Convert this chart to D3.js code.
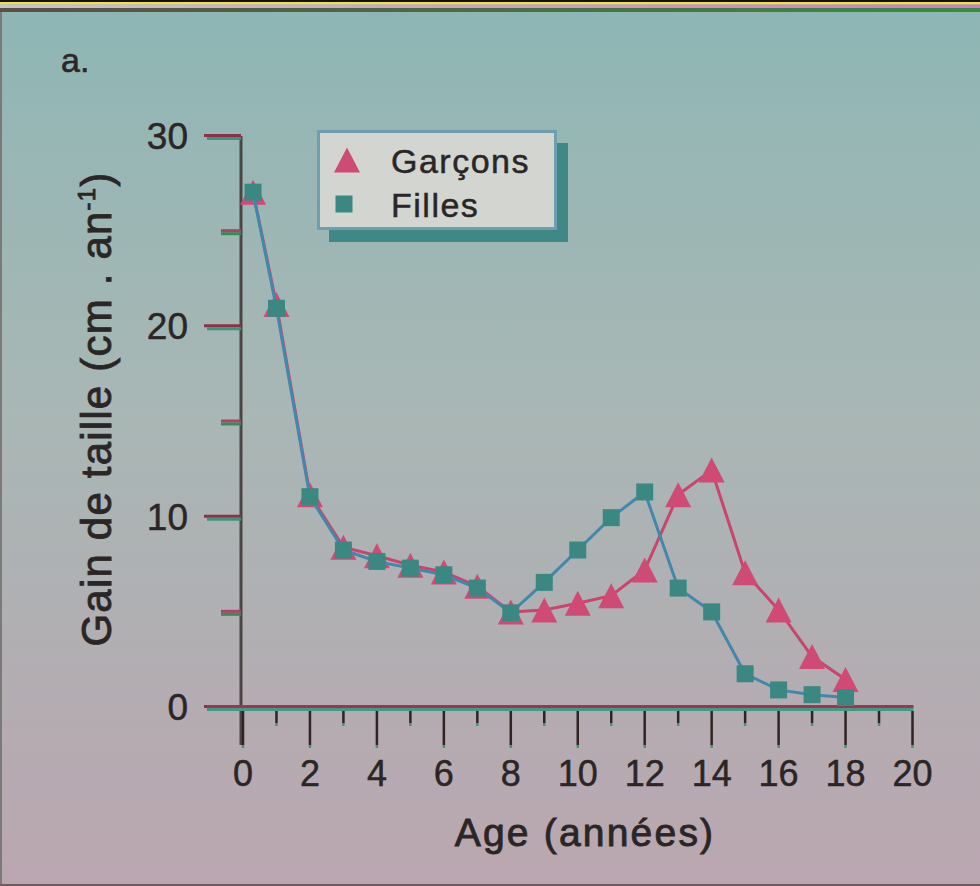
<!DOCTYPE html>
<html>
<head>
<meta charset="utf-8">
<script src="https://cdn.jsdelivr.net/npm/d3@7"></script>
<style>
  html, body { margin: 0; padding: 0; background: #a8b4b4; }
  svg { display: block; }
  text { font-family: "Liberation Sans", Arial, Helvetica, sans-serif; fill: #2b2626; }
</style>
</head>
<body>
<script>
// Growth velocity by age (cm per year)
const ages = [0.3, 1, 2, 3, 4, 5, 6, 7, 8, 9, 10, 11, 12, 13, 14, 15, 16, 17, 18];
const garcons = [27.1, 21.2, 11.2, 8.45, 8.0, 7.5, 7.15, 6.4, 5.05, 5.15, 5.5, 5.9, 7.25, 11.2, 12.5, 7.1, 5.15, 2.7, 1.5];
const filles  = [27.1, 21.0, 11.1, 8.3, 7.7, 7.35, 7.0, 6.3, 5.0, 6.6, 8.3, 10.0, 11.35, 6.3, 5.05, 1.8, 0.95, 0.7, 0.55];
const xTickLabels = [0, 2, 4, 6, 8, 10, 12, 14, 16, 18, 20];
const yTickLabels = [0, 10, 20, 30];
const seriesNames = ["Garçons", "Filles"];

const W = 980, H = 886;
const pink = "#cf4a74", teal = "#3b8883", tealLine = "#4388ac", redLine = "#c9456e";

const svg = d3.select("body").append("svg").attr("width", W).attr("height", H);

// Background wash
const defs = svg.append("defs");
const bg = defs.append("linearGradient").attr("id", "bg").attr("x1", 0).attr("y1", 0).attr("x2", 0).attr("y2", 1);
bg.append("stop").attr("offset", 0).attr("stop-color", "#8db6b4");
bg.append("stop").attr("offset", 0.45).attr("stop-color", "#a8b7b5");
bg.append("stop").attr("offset", 1).attr("stop-color", "#bba6b0");
svg.append("rect").attr("width", W).attr("height", H).attr("fill", "url(#bg)");

// Frame stripes along the top
const stripeA = defs.append("linearGradient").attr("id", "stripeA");
stripeA.append("stop").attr("offset", 0).attr("stop-color", "#c9c2d0");
stripeA.append("stop").attr("offset", 1).attr("stop-color", "#d47ac8");
const stripeB = defs.append("linearGradient").attr("id", "stripeB");
stripeB.append("stop").attr("offset", 0).attr("stop-color", "#5a5044");
stripeB.append("stop").attr("offset", 1).attr("stop-color", "#3a8c44");
svg.append("rect").attr("x", 0).attr("y", 0).attr("width", W).attr("height", 2).attr("fill", "#111");
svg.append("rect").attr("x", 0).attr("y", 2).attr("width", W).attr("height", 2.5).attr("fill", "#efe23c");
svg.append("rect").attr("x", 0).attr("y", 4.5).attr("width", W).attr("height", 3.5).attr("fill", "url(#stripeA)");
svg.append("rect").attr("x", 0).attr("y", 8).attr("width", W).attr("height", 4).attr("fill", "url(#stripeB)");
svg.append("rect").attr("x", 0).attr("y", 12).attr("width", 2).attr("height", H - 12).attr("fill", "#7a7a78");
svg.append("rect").attr("x", 0).attr("y", H - 2).attr("width", W).attr("height", 2).attr("fill", "#6e5a60");

// Scales
const x = d3.scaleLinear().domain([0, 20]).range([243, 912.5]);
const y = d3.scaleLinear().domain([0, 30]).range([708, 137]);

// Panel letter
svg.append("text").attr("x", 61).attr("y", 72).attr("font-size", 34)
  .attr("stroke", "#2b2626").attr("stroke-width", 0.6).text("a.");

// Y axis line
svg.append("line").attr("x1", x(0) - 2).attr("x2", x(0) - 2)
  .attr("y1", y(30) - 1).attr("y2", 745)
  .attr("stroke", "#4a4646").attr("stroke-width", 3);

// Y ticks (major at labels, minor halfway)
const yMajor = yTickLabels, yMinor = [5, 15, 25];
const yTicks = svg.append("g");
yMajor.forEach(v => {
  yTicks.append("line").attr("x1", 204).attr("x2", x(0) - 2).attr("y1", y(v) - 1.5).attr("y2", y(v) - 1.5)
    .attr("stroke", "#8e3048").attr("stroke-width", 3);
  yTicks.append("line").attr("x1", 207).attr("x2", x(0) - 2).attr("y1", y(v) + 1.5).attr("y2", y(v) + 1.5)
    .attr("stroke", "#3e9478").attr("stroke-width", 3);
});
yMinor.forEach(v => {
  yTicks.append("line").attr("x1", 221).attr("x2", x(0) - 2).attr("y1", y(v) - 1.5).attr("y2", y(v) - 1.5)
    .attr("stroke", "#b0406a").attr("stroke-width", 3);
  yTicks.append("line").attr("x1", 221).attr("x2", x(0) - 2).attr("y1", y(v) + 1.5).attr("y2", y(v) + 1.5)
    .attr("stroke", "#3a8a58").attr("stroke-width", 3);
});
svg.append("g").selectAll("text").data(yTickLabels).join("text")
  .attr("x", 188).attr("y", d => y(d) + 12).attr("text-anchor", "end")
  .attr("font-size", 37).attr("stroke", "#2b2626").attr("stroke-width", 0.5)
  .text(d => d);

// X axis line (two-tone print edge)
svg.append("line").attr("x1", 207).attr("x2", x(20) + 1).attr("y1", y(0) - 1.5).attr("y2", y(0) - 1.5)
  .attr("stroke", "#a8304e").attr("stroke-width", 3);
svg.append("line").attr("x1", 209).attr("x2", x(20) + 1).attr("y1", y(0) + 1.5).attr("y2", y(0) + 1.5)
  .attr("stroke", "#3c9c84").attr("stroke-width", 3);

// X ticks: major every 2 years, minor on odd years
const xt = svg.append("g");
d3.range(0, 21).forEach(a => {
  const major = a % 2 === 0;
  const len = major ? 37 : 15;
  xt.append("line").attr("x1", x(a)).attr("x2", x(a)).attr("y1", y(0) + 3).attr("y2", y(0) + len)
    .attr("stroke", "#2e2424").attr("stroke-width", 2.5);
  xt.append("line").attr("x1", x(a)).attr("x2", x(a)).attr("y1", y(0) + len).attr("y2", y(0) + len + 3)
    .attr("stroke", "#3a9a70").attr("stroke-width", 2.5);
});
svg.append("g").selectAll("text").data(xTickLabels).join("text")
  .attr("x", d => x(d)).attr("y", 786).attr("text-anchor", "middle")
  .attr("font-size", 36).attr("stroke", "#2b2626").attr("stroke-width", 0.5)
  .text(d => d);

// Axis titles
svg.append("text").attr("x", 585).attr("y", 846).attr("text-anchor", "middle")
  .attr("font-size", 39).attr("letter-spacing", 2.2)
  .attr("stroke", "#2b2626").attr("stroke-width", 0.9)
  .text("Age (années)");

const yTitle = svg.append("text")
  .attr("transform", "translate(111,409) rotate(-90)")
  .attr("text-anchor", "middle").attr("font-size", 42).attr("letter-spacing", 1.2)
  .attr("stroke", "#2b2626").attr("stroke-width", 0.9);
yTitle.append("tspan").text("Gain de taille (cm . an");
yTitle.append("tspan").attr("font-size", 24).attr("dy", -16).text("-1");
yTitle.append("tspan").attr("dy", 16).text(")");

// Triangle drawn centred on its bounding box
const triPath = (w, h) => `M0,${-h / 2}L${w / 2},${h / 2}L${-w / 2},${h / 2}Z`;
const sq = 17;

const line = d3.line().x(d => x(d[0])).y(d => y(d[1]));
const gData = ages.map((a, i) => [a, garcons[i]]);
const fData = ages.map((a, i) => [a, filles[i]]);

// Garçons
svg.append("path").datum(gData).attr("d", line).attr("fill", "none")
  .attr("stroke", redLine).attr("stroke-width", 3);
svg.append("g").selectAll("path").data(gData).join("path")
  .attr("transform", d => `translate(${x(d[0])},${y(d[1])})`)
  .attr("d", triPath(26, 25)).attr("fill", pink);

// Filles
svg.append("path").datum(fData).attr("d", line).attr("fill", "none")
  .attr("stroke", tealLine).attr("stroke-width", 3);
svg.append("g").selectAll("rect").data(fData).join("rect")
  .attr("x", d => x(d[0]) - sq / 2).attr("y", d => y(d[1]) - sq / 2)
  .attr("width", sq).attr("height", sq).attr("fill", teal);

// Legend
const lg = svg.append("g");
lg.append("rect").attr("x", 329).attr("y", 143).attr("width", 239).attr("height", 99).attr("fill", "#3f8885");
lg.append("rect").attr("x", 318.5).attr("y", 131.5).attr("width", 237).attr("height", 97)
  .attr("fill", "#d3d5d1").attr("stroke", "#6f9fae").attr("stroke-width", 3);
lg.append("path").attr("transform", "translate(347,160)").attr("d", triPath(26, 25)).attr("fill", pink);
lg.append("rect").attr("x", 344 - sq / 2).attr("y", 204 - sq / 2).attr("width", sq).attr("height", sq).attr("fill", teal);
lg.selectAll("text.leg").data(seriesNames).join("text").attr("class", "leg")
  .attr("x", 391).attr("y", (d, i) => 173 + i * 44)
  .attr("font-size", 34).attr("letter-spacing", 1.5)
  .attr("stroke", "#2b2626").attr("stroke-width", 0.5)
  .text(d => d);
</script>
</body>
</html>
